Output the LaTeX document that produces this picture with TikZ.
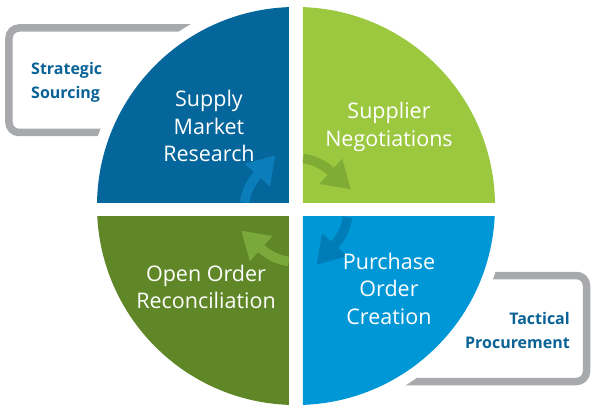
\documentclass[tikz,border=0pt]{standalone}
\usepackage{fontspec}
\setmainfont{Open Sans}
\usetikzlibrary{positioning, arrows.meta}
\definecolor{SupplyBlue}{HTML}{04669A}
\definecolor{SupplyArrow}{HTML}{0B7DBA}
\definecolor{NegoGreen}{HTML}{9BC83F}
\definecolor{NegoArrow}{HTML}{7FAC35}
\definecolor{OrderBlue}{HTML}{0097D7}
\definecolor{OrderArrow}{HTML}{007CB7}
\definecolor{ReconGreen}{HTML}{5F8627}
\definecolor{ReconArrow}{HTML}{7BA83A}
\definecolor{Bracket}{HTML}{A7A9AC}
\definecolor{LabelBlue}{HTML}{0A6296}
\tikzset{
    phasetext/.style={text=white, align=center, inner sep=0pt, font=\fontsize{21.5}{27.5}\selectfont},
    tiertext/.style={text=LabelBlue, inner sep=0pt, font=\bfseries\fontsize{16}{24}\selectfont},
    bracket/.style={draw=Bracket, line width=7.5pt, rounded corners=10pt},
    cyclearrow/.style={line width=9.5pt, -{Triangle[width=32pt, length=27pt]}},
}
\begin{document}
\begin{tikzpicture}[x=1pt, y=1pt]
    \useasboundingbox (-296,-205) rectangle (301,210);

    % Grey brackets behind the circle
    \draw[bracket] (-60,182) -- (-287,182) -- (-287,77.5) -- (-60,77.5);
    \draw[bracket] (60,-65.5) -- (290.5,-65.5) -- (290.5,-171.5) -- (60,-171.5);

    % White ring cutting the brackets
    \fill[white] (0,4) circle[radius=210pt];

    % Quadrants with their cycle arrows
    \foreach \a/\sx/\sy/\qcol/\acol in {0/1/1/NegoGreen/NegoArrow, 90/-1/1/SupplyBlue/SupplyArrow,
                                        180/-1/-1/ReconGreen/ReconArrow, 270/1/-1/OrderBlue/OrderArrow} {
        \begin{scope}
            \clip (\sx*7,\sy*7) rectangle (\sx*305,\sy*215);
            \fill[\qcol] (0,4) circle[radius=199pt];
            \draw[cyclearrow, draw=\acol, fill=\acol] (\a+82:52pt) arc[start angle=\a+82, end angle=\a+48, radius=52pt]
                -- ++(\a-42:27pt);
        \end{scope}
    }

    % Phase labels
    \node[phasetext] (research) at (-87,84) {Supply\\Market\\Research};
    \node[phasetext] (negotiation) at (93,83) {Supplier\\Negotiations};
    \node[phasetext] (reconcile) at (-90,-77) {Open Order\\Reconciliation};
    \node[phasetext] (ordering) at (93,-78.5) {Purchase\\Order\\Creation};

    % Tier labels
    \node[tiertext, anchor=west, align=left] (strategic) at (-265,127.7) {Strategic\\Sourcing};
    \node[tiertext, anchor=east, align=right] (tactical) at (274,-120.8) {Tactical\\Procurement};
\end{tikzpicture}
\end{document}
